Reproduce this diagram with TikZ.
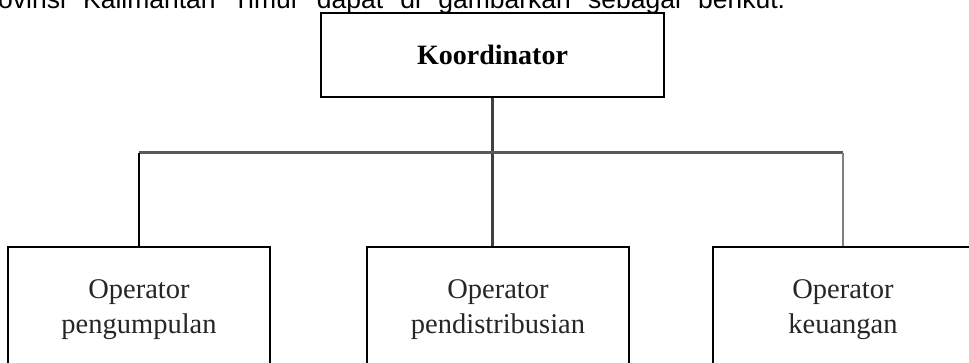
\documentclass[tikz,border=0pt]{standalone}
\usepackage{fontspec}
\setmainfont{Liberation Serif}
\newfontfamily\arialf{Liberation Sans}
\begin{document}
\begin{tikzpicture}[x=1pt,y=-1pt,
  orgbox/.style={draw=black, line width=2.2pt, rectangle, inner sep=0pt, fill=white},
  subbox/.style={orgbox, minimum width=262pt, minimum height=126pt, align=center,
     font=\fontsize{28.5}{35}\selectfont, text=black!85},
  conn/.style={line width=2.2pt, draw=#1},
  conn/.default=black]
\useasboundingbox (0,0) rectangle (969,362);
\clip (0,0) rectangle (969,362);
\fill[white] (0,0) rectangle (969,362);
% cropped line of body text
\node[anchor=base west, inner sep=0pt, font=\arialf\fontsize{26.5}{30}\selectfont] (txt) at (-2,8)
  {\makebox[787pt][s]{ovinsi Kalimantan Timur dapat di gambarkan sebagai berikut.}};
% boxes
\node[orgbox, minimum width=343pt, minimum height=84pt, font=\bfseries\fontsize{28}{32}\selectfont] (k) at (492.5,55) {Koordinator};
\node[subbox] (l) at (139,310) {Operator\\pengumpulan};
\node[subbox] (m) at (498,310) {Operator\\pendistribusian};
\node[subbox, minimum width=260pt] (r) at (843,310) {Operator\\keuangan};
% connectors
\coordinate (hl) at (139,152.5);
\coordinate (hr) at (843,152.5);
\draw[conn=black!75] (k.south) -- (k.south |- m.north);
\draw[conn=black!65] (hl) -- (hr);
\draw[conn=black] (hl) -- (l.north);
\draw[conn=black!50] (hr) -- (r.north);
\end{tikzpicture}
\end{document}
